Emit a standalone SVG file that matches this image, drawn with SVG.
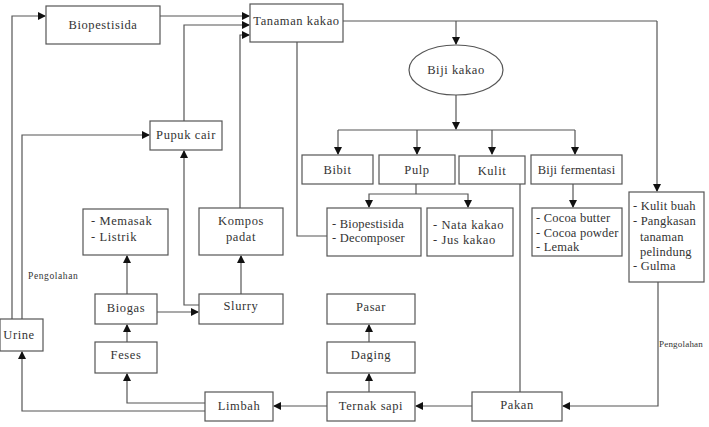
<svg xmlns="http://www.w3.org/2000/svg" width="709" height="427" viewBox="0 0 709 427">
<defs>
<marker id="ah" markerWidth="8" markerHeight="8" refX="7" refY="4" orient="auto" markerUnits="userSpaceOnUse">
<path d="M0,0 L8,4 L0,8 Z" fill="#111"/>
</marker>
<style>
.b{fill:#fff;stroke:#555;stroke-width:1.2}
.t{font-family:'Liberation Serif',serif;font-size:12.5px;fill:#333;letter-spacing:0.6px}
.n{letter-spacing:0.2px}
.c{text-anchor:middle}
.s{font-family:'Liberation Serif',serif;font-size:9.5px;fill:#333;letter-spacing:0.6px}
.l{fill:none;stroke:#555;stroke-width:1.2}
.a{marker-end:url(#ah)}
</style>
</defs>
<rect width="709" height="427" fill="#fff"/>
<g id="connectors">
<path class="l a" d="M12,319 V16 H45"/>
<path class="l a" d="M160,16 H249"/>
<path class="l a" d="M184,121 V25 H249"/>
<path class="l a" d="M240,208 V35 H249"/>
<path class="l" d="M297,42 V236 H327"/>
<path class="l a" d="M22,319 V135 H149"/>
<path class="l a" d="M205,411 H22 V352"/>
<path class="l a" d="M205,403 H127 V374"/>
<path class="l a" d="M127,342 V325"/>
<path class="l a" d="M157,312 H198"/>
<path class="l a" d="M199,305 H184 V151"/>
<path class="l a" d="M241,294 V256"/>
<path class="l a" d="M127,294 V256"/>
<path class="l" d="M343,21 H657"/>
<path class="l a" d="M657,21 V191"/>
<path class="l a" d="M456,21 V44"/>
<path class="l a" d="M456,95 V129"/>
<path class="l" d="M338,130 H575"/>
<path class="l a" d="M338,130 V154"/>
<path class="l a" d="M417,130 V154"/>
<path class="l a" d="M492,130 V154"/>
<path class="l a" d="M575,130 V154"/>
<path class="l" d="M416,184 V194"/>
<path class="l a" d="M416,194 H369 V207"/>
<path class="l a" d="M416,194 H468 V207"/>
<path class="l a" d="M573,184 V207"/>
<path class="l a" d="M658,282 V406 H563"/>
<path class="l" d="M520,184 V392"/>
<path class="l a" d="M472,406 H416"/>
<path class="l a" d="M327,406 H274"/>
<path class="l a" d="M369,392 V374"/>
<path class="l a" d="M369,342 V325"/>
</g>
<g id="biopestisida"><rect class="b" x="46" y="6" width="114" height="38"/><text class="t c" x="103" y="29">Biopestisida</text></g>
<g id="tanaman-kakao"><rect class="b" x="250" y="4" width="93" height="38"/><text class="t c" x="296.5" y="25">Tanaman kakao</text></g>
<g id="biji-kakao"><ellipse class="b" cx="456" cy="70" rx="47" ry="25"/><text class="t c" x="456" y="74">Biji kakao</text></g>
<g id="pupuk-cair"><rect class="b" x="150" y="121" width="72" height="29"/><text class="t c" x="186" y="139">Pupuk cair</text></g>
<g id="bibit"><rect class="b" x="302" y="155" width="71" height="29"/><text class="t c" x="337.5" y="174">Bibit</text></g>
<g id="pulp"><rect class="b" x="379" y="155" width="76" height="29"/><text class="t c" x="417" y="174">Pulp</text></g>
<g id="kulit"><rect class="b" x="459" y="156" width="66" height="28"/><text class="t c" x="492" y="175">Kulit</text></g>
<g id="biji-fermentasi"><rect class="b" x="531" y="155" width="91" height="29"/><text class="t c n" x="576.5" y="174">Biji fermentasi</text></g>
<g id="memasak"><rect class="b" x="83" y="209" width="85" height="46"/><text class="t" x="91" y="225">- Memasak</text><text class="t" x="91" y="241">- Listrik</text></g>
<g id="kompos-padat"><rect class="b" x="199" y="208" width="84" height="47"/><text class="t c" x="241" y="225">Kompos</text><text class="t c" x="241" y="241">padat</text></g>
<g id="biopestisida-decomposer"><rect class="b" x="327" y="208" width="94" height="48"/><text class="t n" x="332" y="228">- Biopestisida</text><text class="t n" x="332" y="242">- Decomposer</text></g>
<g id="nata-kakao"><rect class="b" x="427" y="208" width="86" height="48"/><text class="t" x="433" y="229">- Nata kakao</text><text class="t" x="433" y="244">- Jus kakao</text></g>
<g id="cocoa"><rect class="b" x="532" y="208" width="90" height="48"/><text class="t n" x="536" y="222">- Cocoa butter</text><text class="t n" x="536" y="237">- Cocoa powder</text><text class="t n" x="536" y="251">- Lemak</text></g>
<g id="kulit-buah"><rect class="b" x="629" y="192" width="75" height="90"/><text class="t n" x="633" y="210">- Kulit buah</text><text class="t n" x="633" y="225">- Pangkasan</text><text class="t n" x="640" y="241">tanaman</text><text class="t n" x="640" y="256">pelindung</text><text class="t n" x="633" y="270">- Gulma</text></g>
<g id="label-pengolahan-1"><text class="s" x="28" y="279">Pengolahan</text></g>
<g id="label-pengolahan-2"><text class="s" x="659" y="347" style="letter-spacing:0.2px;font-size:9px">Pengolahan</text></g>
<g id="biogas"><rect class="b" x="95" y="294" width="62" height="30"/><text class="t c" x="126" y="312">Biogas</text></g>
<g id="slurry"><rect class="b" x="199" y="294" width="84" height="30"/><text class="t c" x="241" y="310">Slurry</text></g>
<g id="pasar"><rect class="b" x="327" y="294" width="88" height="30"/><text class="t c" x="371" y="311">Pasar</text></g>
<g id="urine"><rect class="b" x="0" y="319" width="43" height="32"/><text class="t c" x="19" y="339">Urine</text></g>
<g id="feses"><rect class="b" x="95" y="342" width="62" height="31"/><text class="t c" x="126" y="359">Feses</text></g>
<g id="daging"><rect class="b" x="327" y="342" width="88" height="31"/><text class="t c" x="371" y="359">Daging</text></g>
<g id="limbah"><rect class="b" x="205" y="392" width="68" height="29"/><text class="t c" x="239" y="410">Limbah</text></g>
<g id="ternak-sapi"><rect class="b" x="327" y="392" width="88" height="29"/><text class="t c" x="371" y="410">Ternak sapi</text></g>
<g id="pakan"><rect class="b" x="472" y="392" width="90" height="29"/><text class="t c" x="517" y="409">Pakan</text></g>
</svg>
